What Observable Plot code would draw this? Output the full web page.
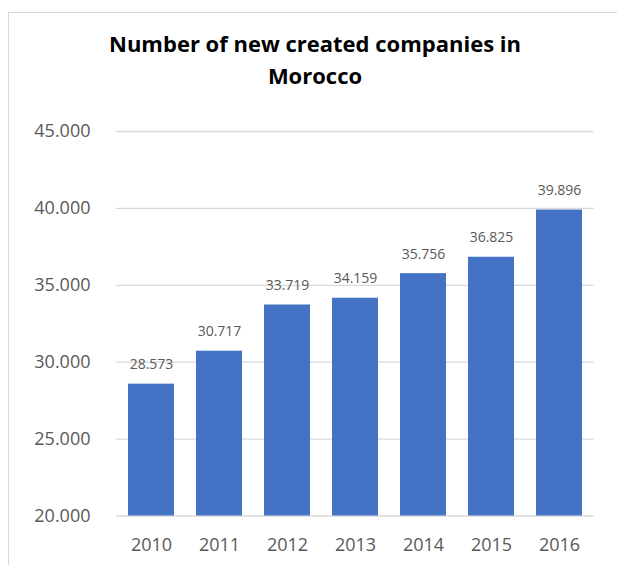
<!DOCTYPE html>
<html>
<head>
<meta charset="utf-8">
<script src="https://cdn.jsdelivr.net/npm/d3@7"></script>
<script src="https://cdn.jsdelivr.net/npm/@observablehq/plot@0.6"></script>
<style>
  html, body { margin: 0; padding: 0; background: #fff; }
  #wrap { position: relative; width: 617px; height: 565px; overflow: hidden; background: #fff; }
  #border { position: absolute; left: 8px; top: 12px; width: 640px; height: 600px;
            border-top: 1.5px solid #d9d9d9; border-left: 1.5px solid #d9d9d9; }
  #title { position: absolute; left: 0; top: 27px; width: 630px; text-align: center;
           font-family: "Open Sans", sans-serif; font-weight: 700; font-size: 22px;
           line-height: 32px; color: #000; }
  #chart { position: absolute; left: 0; top: 0; }
</style>
</head>
<body>
<div id="wrap">
  <div id="border"></div>
  <div id="title">Number of new created companies in<br>Morocco</div>
  <div id="chart"></div>
</div>
<script>
const years = ["2010", "2011", "2012", "2013", "2014", "2015", "2016"];
const companies = [28573, 30717, 33719, 34159, 35756, 36825, 39896];
const yTicks = [20000, 25000, 30000, 35000, 40000, 45000];

const data = years.map((year, i) => ({year, value: companies[i]}));
const fmt = d3.formatLocale({decimal: ",", thousands: ".", grouping: [3], currency: ["", ""]}).format(",d");

const chart = Plot.plot({
  width: 617,
  height: 565,
  marginTop: 131,
  marginBottom: 49.5,
  marginLeft: 116,
  marginRight: 23.5,
  style: {background: "transparent", fontFamily: "Open Sans, sans-serif", color: "#595959"},
  x: {domain: years, paddingInner: 0.32, paddingOuter: 0.16, label: null},
  y: {domain: [20000, 45000], label: null},
  marks: [
    Plot.gridY(yTicks, {stroke: "#d9d9d9", strokeOpacity: 1, strokeWidth: 1.3}),
    Plot.barY(data, {x: "year", y1: () => 20000, y2: "value", fill: "#4472C4"}),
    Plot.text(data, {x: "year", y: "value", text: d => fmt(d.value), lineAnchor: "bottom", dy: -15,
                     fontSize: 14, fill: "#595959"}),
    Plot.axisY(yTicks, {tickSize: 0, tickPadding: 26, tickFormat: fmt, fontSize: 18, fill: "#595959", label: null}),
    Plot.axisX({tickSize: 0, tickPadding: 22, fontSize: 18, fill: "#595959", label: null})
  ]
});
document.getElementById("chart").appendChild(chart);
</script>
</body>
</html>
